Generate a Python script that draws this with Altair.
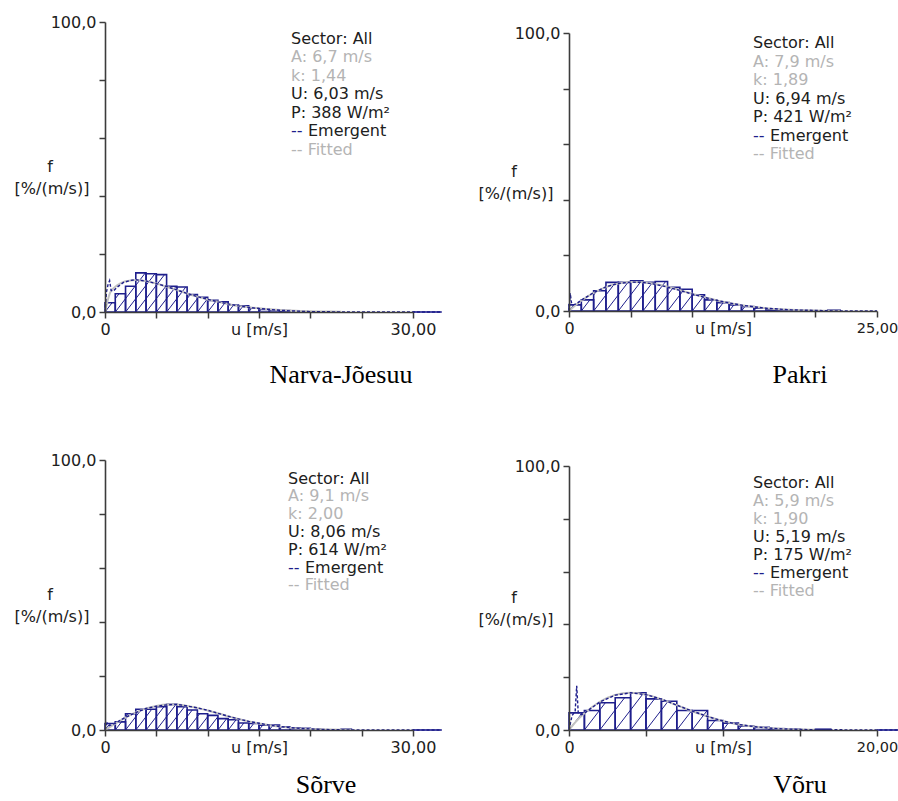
import math
import altair as alt
import pandas as pd

# ---------------- data ----------------
# histogram bins are 1 m/s wide, starting at 0; values in %/(m/s)
narva_freq = [3.2, 6.3, 8.9, 13.5, 13.2, 12.9, 8.9, 8.6, 6.0, 5.1, 4.0, 3.5, 2.4, 2.1, 1.3, 0.9, 0.7, 0.5]
narva_fit_u = [0, 0.5, 1, 1.5, 2, 2.5, 3, 3.5, 4, 5, 6, 7, 8, 9, 10, 11, 12, 13, 14, 15, 16, 17, 18, 19, 20, 21, 22, 23]
narva_fit_f = [0, 6.7, 8.7, 9.9, 10.6, 10.9, 11.0, 10.9, 10.6, 9.8, 8.7, 7.6, 6.4, 5.3, 4.3, 3.5, 2.7, 2.1, 1.65, 1.26, 0.95, 0.71, 0.52, 0.38, 0.27, 0.19, 0.13, 0.09]
narva_em_u = [0, 0.15, 0.3, 0.45, 0.6, 0.8, 1.2, 1.8, 2.5, 3, 4, 5, 6, 7, 8, 9, 10, 11, 12, 13, 14, 15, 16, 17, 18, 20, 25, 32.8]
narva_em_f = [0, 7.0, 9.5, 10.8, 7.4, 7.2, 8.6, 10.2, 10.9, 11.1, 10.7, 9.8, 8.8, 7.6, 6.4, 5.3, 4.4, 3.5, 2.8, 2.1, 1.6, 1.2, 0.9, 0.6, 0.4, 0.1, 0, 0]
narva_info = ["Sector: All", "A: 6,7 m/s", "k: 1,44", "U: 6,03 m/s", "P: 388 W/m²"]

pakri_freq = [2.2, 4.0, 7.3, 10.3, 10.3, 10.9, 10.3, 10.6, 8.5, 7.8, 5.8, 4.0, 3.0, 2.2, 1.6, 1.0, 0.6, 0.35, 0.2, 0.1, 0, 0.3]
pakri_fit_u = [0, 0.5, 1, 2, 3, 4, 5, 6, 7, 8, 9, 10, 11, 12, 13, 14, 15, 16, 17, 18, 19, 20, 21, 22]
pakri_fit_f = [0, 2.0, 3.7, 6.5, 8.6, 9.9, 10.4, 10.3, 9.7, 8.7, 7.5, 6.2, 5.0, 3.8, 2.9, 2.1, 1.5, 1.0, 0.67, 0.43, 0.27, 0.17, 0.10, 0.06]
pakri_em_u = [0, 0.1, 0.2, 0.35, 0.6, 1, 2, 3, 4, 5, 6, 7, 8, 9, 10, 11, 12, 13, 14, 15, 16, 17, 18, 19, 20, 22, 25]
pakri_em_f = [0, 6.4, 3.0, 2.2, 2.6, 3.9, 6.6, 8.7, 9.9, 10.4, 10.3, 9.6, 8.6, 7.4, 6.1, 4.9, 3.8, 2.9, 2.1, 1.5, 1.0, 0.7, 0.4, 0.3, 0.2, 0, 0]
pakri_info = ["Sector: All", "A: 7,9 m/s", "k: 1,89", "U: 6,94 m/s", "P: 421 W/m²"]

sorve_freq = [2.4, 3.0, 6.0, 7.7, 7.7, 8.6, 9.5, 8.6, 7.4, 6.0, 5.4, 4.2, 3.8, 2.6, 2.4, 1.8, 1.8, 1.2, 0.8, 0.6, 0.4, 0, 0, 0.3]
sorve_fit_u = [0, 1, 2, 3, 4, 5, 6, 7, 8, 9, 10, 11, 12, 13, 14, 15, 16, 17, 18, 19, 20, 21, 22, 23, 24]
sorve_fit_f = [0, 2.4, 4.6, 6.5, 8.0, 8.9, 9.4, 9.4, 8.9, 8.2, 7.2, 6.2, 5.1, 4.1, 3.2, 2.4, 1.8, 1.25, 0.87, 0.59, 0.39, 0.25, 0.15, 0.09, 0.05]
sorve_em_u = [0, 0.2, 0.4, 1, 2, 3, 4, 5, 6, 7, 8, 9, 10, 11, 12, 13, 14, 15, 16, 17, 18, 19, 20, 21, 24, 32.8]
sorve_em_f = [0, 2.6, 1.6, 2.5, 4.7, 6.4, 8.0, 8.8, 9.3, 9.5, 8.9, 8.2, 7.3, 6.2, 5.1, 4.1, 3.2, 2.5, 1.8, 1.3, 0.9, 0.6, 0.4, 0.2, 0, 0]
sorve_info = ["Sector: All", "A: 9,1 m/s", "k: 2,00", "U: 8,06 m/s", "P: 614 W/m²"]

voru_freq = [6.5, 7.4, 10.3, 12.2, 14.1, 11.8, 10.9, 7.4, 7.4, 3.6, 2.6, 1.5, 1.0, 0.5, 0.3, 0, 0.3]
voru_fit_u = [0, 0.5, 1, 2, 3, 4, 5, 6, 7, 8, 9, 10, 11, 12, 13, 14, 15, 16]
voru_fit_f = [0, 3.5, 6.3, 10.7, 13.3, 14.1, 13.4, 11.6, 9.4, 7.1, 5.1, 3.4, 2.1, 1.3, 0.74, 0.40, 0.21, 0.10]
voru_em_u = [0, 0.2, 0.4, 0.5, 0.6, 0.8, 1, 2, 3, 4, 5, 6, 7, 8, 9, 10, 11, 12, 13, 14, 15, 16, 21.4]
voru_em_f = [0, 5.5, 7.0, 16.7, 6.5, 5.8, 6.4, 10.6, 13.2, 14.1, 13.4, 11.7, 9.4, 7.2, 5.1, 3.4, 2.1, 1.3, 0.7, 0.4, 0.2, 0.1, 0]
voru_info = ["Sector: All", "A: 5,9 m/s", "k: 1,90", "U: 5,19 m/s", "P: 175 W/m²"]

captions = ["Narva-Jõesuu", "Pakri", "Sõrve", "Võru"]
x_max = [30, 25, 30, 20]

# ---------------- styling / layout ----------------
W, H = 898, 801
BLUE = "#1e1e8c"
FITGRAY = "#c2c2c2"
TXTGRAY = "#b4b4b4"
AXC = "#3c3c3c"
TXT = "#202020"
FONT = "DejaVu Sans"
SERIF = "Liberation Serif"

layout = [
    dict(xr=(105, 413), yr=(312, 22), box=(291, 38.5, 18.5), cap=(341, 383)),
    dict(xr=(569, 877), yr=(311, 33), box=(753, 43.3, 18.5), cap=(800, 383)),
    dict(xr=(105, 413), yr=(730, 460), box=(288, 478.5, 17.8), cap=(326, 793)),
    dict(xr=(569, 877), yr=(730, 466), box=(753, 482.5, 18.0), cap=(800, 793)),
]

series = [
    (narva_freq, narva_fit_u, narva_fit_f, narva_em_u, narva_em_f, narva_info),
    (pakri_freq, pakri_fit_u, pakri_fit_f, pakri_em_u, pakri_em_f, pakri_info),
    (sorve_freq, sorve_fit_u, sorve_fit_f, sorve_em_u, sorve_em_f, sorve_info),
    (voru_freq, voru_fit_u, voru_fit_f, voru_em_u, voru_em_f, voru_info),
]


def txt(s, x, y, color=TXT, size=16, align="left", font=FONT, baseline="middle"):
    return alt.Chart(pd.DataFrame({"t": [s]})).mark_text(
        align=align, baseline=baseline, font=font, fontSize=size, color=color
    ).encode(x=alt.value(x), y=alt.value(y), text="t:N")


def hatch_table(freq, slope, step=1.0):
    rows = []
    top = max(freq)
    kmin = -int(math.ceil(top / slope / step)) - 2
    for i, h in enumerate(freq):
        if h <= 0:
            continue
        x0, x1 = i, i + 1
        for k in range(kmin, len(freq) + 2):
            c = k * step
            xa = max(x0, c)
            xb = min(x1, c + h / slope)
            if xb - xa > 1e-6:
                rows.append(dict(xa=xa, ya=slope * (xa - c), xb=xb, yb=slope * (xb - c)))
    return pd.DataFrame(rows)


layers = []
for idx, (lay, ser, cap, xmax) in enumerate(zip(layout, series, captions, x_max)):
    freq, fu, ff, eu, ef, info = ser
    xr, yr = lay["xr"], lay["yr"]
    xs = alt.Scale(domain=[0, xmax], range=list(xr), nice=False, zero=False)
    ys = alt.Scale(domain=[0, 100], range=list(yr), nice=False, zero=False)

    if xr[1] + 23 > W:
        xlabel_size = {"condition": {"test": f"datum.value == {xmax}", "value": 14.5}, "value": 16}
    else:
        xlabel_size = 16

    xaxis = alt.Axis(
        orient="bottom", offset=yr[0] - H, values=list(range(0, xmax + 1, 5)),
        labelExpr=f"datum.value == 0 ? '0' : (datum.value == {xmax} ? '{xmax},00' : '')",
        labelFlush=False, labelOverlap=False, grid=False,
        domainColor=AXC, domainWidth=1.6, tickColor=AXC, tickWidth=1.5, tickSize=6,
        labelFont=FONT, labelFontSize=xlabel_size, labelColor=TXT, labelBaseline="middle",
        labelPadding=11,
        title="u [m/s]", titleFont=FONT, titleFontSize=16, titleFontWeight="normal",
        titleColor=TXT, titleY=17, titleBaseline="middle", zindex=1,
    )
    yaxis = alt.Axis(
        orient="left", offset=-xr[0], values=[0, 20, 40, 60, 80, 100],
        labelExpr="datum.value == 0 ? '0,0' : (datum.value == 100 ? '100,0' : '')",
        labelOverlap=False, grid=False,
        domainColor=AXC, domainWidth=1.6, tickColor=AXC, tickWidth=1.5, tickSize=6,
        labelFont=FONT, labelFontSize=16, labelColor=TXT, labelPadding=3,
        title=None, zindex=1,
    )

    bins = pd.DataFrame({
        "u0": list(range(len(freq))),
        "u1": [i + 1 for i in range(len(freq))],
        "f": freq,
    })
    bins = bins[bins["f"] > 0]
    bars = alt.Chart(bins).mark_rect(
        fill="white", fillOpacity=0, stroke=BLUE, strokeWidth=1.6
    ).encode(
        x=alt.X("u0:Q", scale=xs, axis=xaxis), x2="u1:Q",
        y=alt.Y("f:Q", scale=ys, axis=yaxis), y2=alt.datum(0),
    )

    px_x = (xr[1] - xr[0]) / xmax
    px_y = (yr[0] - yr[1]) / 100.0
    slope = 1.3 * px_x / px_y
    hdf = hatch_table(freq, slope)
    hatch = alt.Chart(hdf).mark_rule(color=BLUE, strokeWidth=1).encode(
        x=alt.X("xa:Q", scale=xs, axis=None), x2="xb:Q",
        y=alt.Y("ya:Q", scale=ys, axis=None), y2="yb:Q",
    )

    fit = alt.Chart(pd.DataFrame({"u": fu, "f": ff})).mark_line(
        color=FITGRAY, strokeWidth=2, interpolate="monotone"
    ).encode(
        x=alt.X("u:Q", scale=xs, axis=None),
        y=alt.Y("f:Q", scale=ys, axis=None),
        order="u:Q",
    )
    edf = pd.DataFrame({"u": eu, "f": ef})
    emer = alt.Chart(edf).mark_line(
        color=BLUE, strokeWidth=1.4, strokeDash=[3, 2]
    ).encode(
        x=alt.X("u:Q", scale=xs, axis=None),
        y=alt.Y("f:Q", scale=ys, axis=None),
        order="u:Q",
    )
    layers += [bars, hatch, fit, emer]

    # the emergent line at zero beyond the end of the axis shows as a solid line
    tail = edf[edf["u"] > xmax]
    if len(tail):
        tail = pd.concat([pd.DataFrame({"u": [xmax], "f": [0.0]}), tail])
        layers.append(alt.Chart(tail).mark_line(color=BLUE, strokeWidth=1.6).encode(
            x=alt.X("u:Q", scale=xs, axis=None),
            y=alt.Y("f:Q", scale=ys, axis=None),
            order="u:Q",
        ))

    # info box
    bx, by, bs = lay["box"]
    colors = [TXT, TXTGRAY, TXTGRAY, TXT, TXT]
    for j, (s, c) in enumerate(zip(info, colors)):
        layers.append(txt(s, bx, by + j * bs, c))
    layers.append(txt("--", bx, by + 5 * bs, BLUE))
    layers.append(txt("Emergent", bx + 17, by + 5 * bs, TXT))
    layers.append(txt("-- Fitted", bx, by + 6 * bs, TXTGRAY))

    # y-axis title
    mid = (yr[0] + yr[1]) / 2.0
    layers.append(txt("f", xr[0] - 55, mid, TXT, align="center"))
    layers.append(txt("[%/(m/s)]", xr[0] - 53, mid + 22, TXT, align="center"))

    # caption
    layers.append(txt(cap, lay["cap"][0], lay["cap"][1], "#000000", size=26,
                      align="center", font=SERIF, baseline="alphabetic"))

chart = alt.layer(*layers).resolve_scale(x="independent", y="independent").properties(
    width=W, height=H, autosize=alt.AutoSizeParams(type="none"), padding=0,
    background="white",
).configure_view(stroke=None)

chart.save("out.html", embed_options={"renderer": "svg", "actions": False})
